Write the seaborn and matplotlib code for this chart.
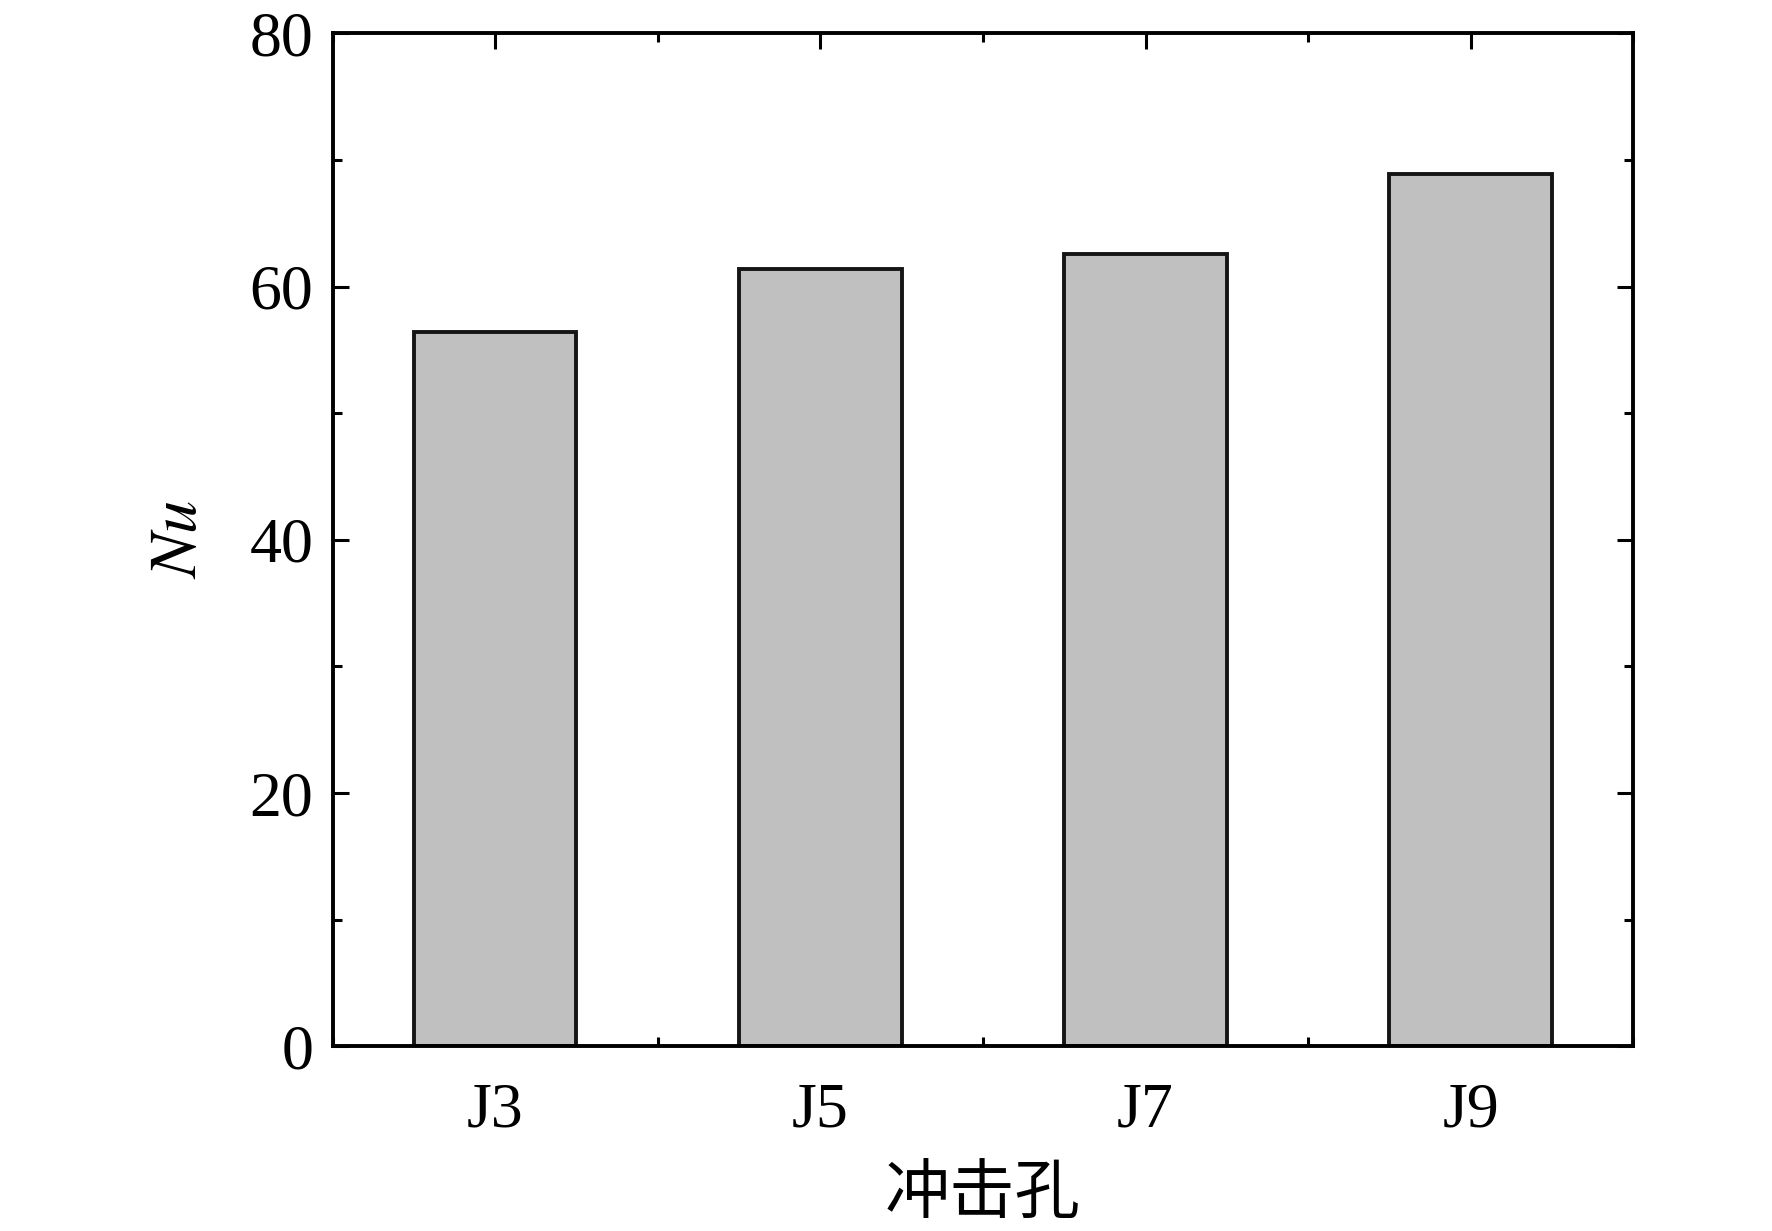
import pandas as pd
import seaborn as sns
import matplotlib.pyplot as plt
from matplotlib.ticker import MultipleLocator

holes = ["J3", "J5", "J7", "J9"]
nu_values = [56.4, 61.4, 62.6, 68.9]

df = pd.DataFrame({"hole": holes, "Nu": nu_values})

sns.set_style("ticks")
plt.rcParams['font.family'] = ['Liberation Serif', 'Noto Sans CJK SC']
plt.rcParams['mathtext.fontset'] = 'stix'
plt.rcParams['text.color'] = 'black'
plt.rcParams['xtick.labelcolor'] = 'black'
plt.rcParams['ytick.labelcolor'] = 'black'
plt.rcParams['axes.labelcolor'] = 'black'

fig = plt.figure(figsize=(17.72, 12.31), dpi=100)
ax = fig.add_axes([0.1877, 0.150, 0.734, 0.823])

sns.barplot(data=df, x="hole", y="Nu", color="#c0c0c0", width=0.5,
            edgecolor="#151515", linewidth=2.8, saturation=1, ax=ax)

ax.set_xlim(-0.5, 3.5)
ax.set_ylim(0, 80)
ax.yaxis.set_major_locator(MultipleLocator(20))
ax.yaxis.set_minor_locator(MultipleLocator(10))
ax.xaxis.set_minor_locator(MultipleLocator(1, offset=0.5))

for s in ax.spines.values():
    s.set_visible(True)
    s.set_linewidth(2.8)
    s.set_color("black")
    s.set_zorder(5)

ax.tick_params(which="both", direction="in", top=True, right=True,
               width=2.2, color="black")
ax.tick_params(which="major", length=11.5, labelsize=46, pad=14)
ax.tick_params(which="minor", length=6.5)
ax.tick_params(axis="x", which="major", pad=26)

ax.set_xlabel("冲击孔", fontsize=47, family="Noto Sans CJK SC", labelpad=16)
ax.set_ylabel("$Nu$", fontsize=48, labelpad=28)

fig.savefig("out.png", dpi=100)
